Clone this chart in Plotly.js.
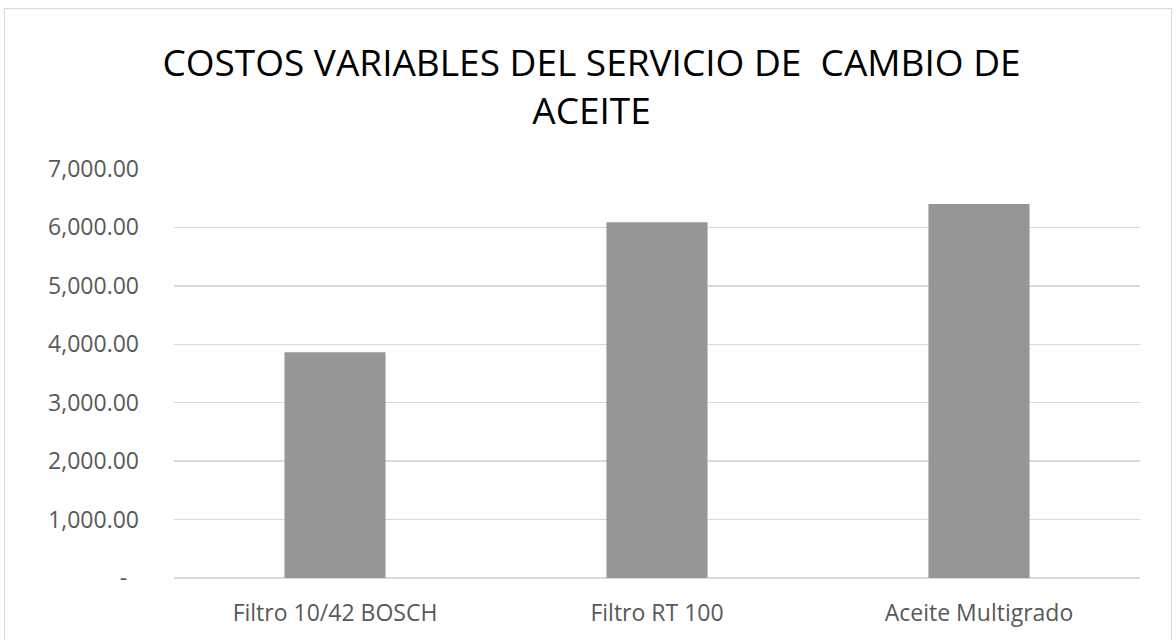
<!DOCTYPE html>
<html>
<head>
<meta charset="utf-8">
<script src="https://cdn.plot.ly/plotly-3.0.1.min.js"></script>
<style>
  html, body { margin: 0; padding: 0; background: #ffffff; }
  #wrap { position: relative; width: 1176px; height: 640px; overflow: hidden; }
  #chart { position: absolute; left: 0; top: 0; width: 1176px; height: 640px; }
  #frame { position: absolute; left: 4px; top: 8px; width: 1168px; height: 660px;
           border: 1.5px solid #d9d9d9; pointer-events: none; box-sizing: border-box; }
</style>
</head>
<body>
<div id="wrap">
  <div id="chart"></div>
  <div id="frame"></div>
</div>
<script>
const categories = ["Filtro 10/42 BOSCH", "Filtro RT 100", "Aceite Multigrado"];
const costs = [3865, 6090, 6400];
const yTickValues = [0, 1000, 2000, 3000, 4000, 5000, 6000, 7000];
const yTickLabels = ["-\u00a0\u00a0", "1,000.00", "2,000.00", "3,000.00", "4,000.00", "5,000.00", "6,000.00", "7,000.00"];
const chartTitle = "COSTOS VARIABLES DEL SERVICIO DE&nbsp; CAMBIO DE<br>ACEITE";

const trace = {
  type: "bar",
  x: categories,
  y: costs,
  marker: { color: "#969696" },
  hoverinfo: "x+y"
};

const layout = {
  width: 1176,
  height: 640,
  paper_bgcolor: "#ffffff",
  plot_bgcolor: "#ffffff",
  font: { family: "Open Sans, sans-serif", color: "#595959" },
  title: {
    text: chartTitle,
    font: { family: "Open Sans, sans-serif", size: 37, color: "#000000" },
    x: 0.503,
    xanchor: "center",
    xref: "container",
    y: 1 - 76 / 640,
    yanchor: "top",
    yref: "container"
  },
  margin: { l: 174, r: 36, t: 169, b: 62 },
  bargap: 0.686,
  showlegend: false,
  xaxis: {
    type: "category",
    showgrid: false,
    zeroline: false,
    showline: false,
    ticks: "",
    tickfont: { size: 23, color: "#595959" },
    ticklabelstandoff: 19
  },
  yaxis: {
    range: [0, 7000],
    tickvals: yTickValues,
    ticktext: yTickLabels,
    showgrid: true,
    gridcolor: "#d9d9d9",
    gridwidth: 1.5,
    zeroline: true,
    zerolinecolor: "#d9d9d9",
    zerolinewidth: 1.5,
    showline: false,
    ticks: "",
    tickfont: { size: 23, color: "#595959" },
    ticklabelstandoff: 34
  }
};

Plotly.newPlot("chart", [trace], layout, { displayModeBar: false, staticPlot: true });
</script>
</body>
</html>
